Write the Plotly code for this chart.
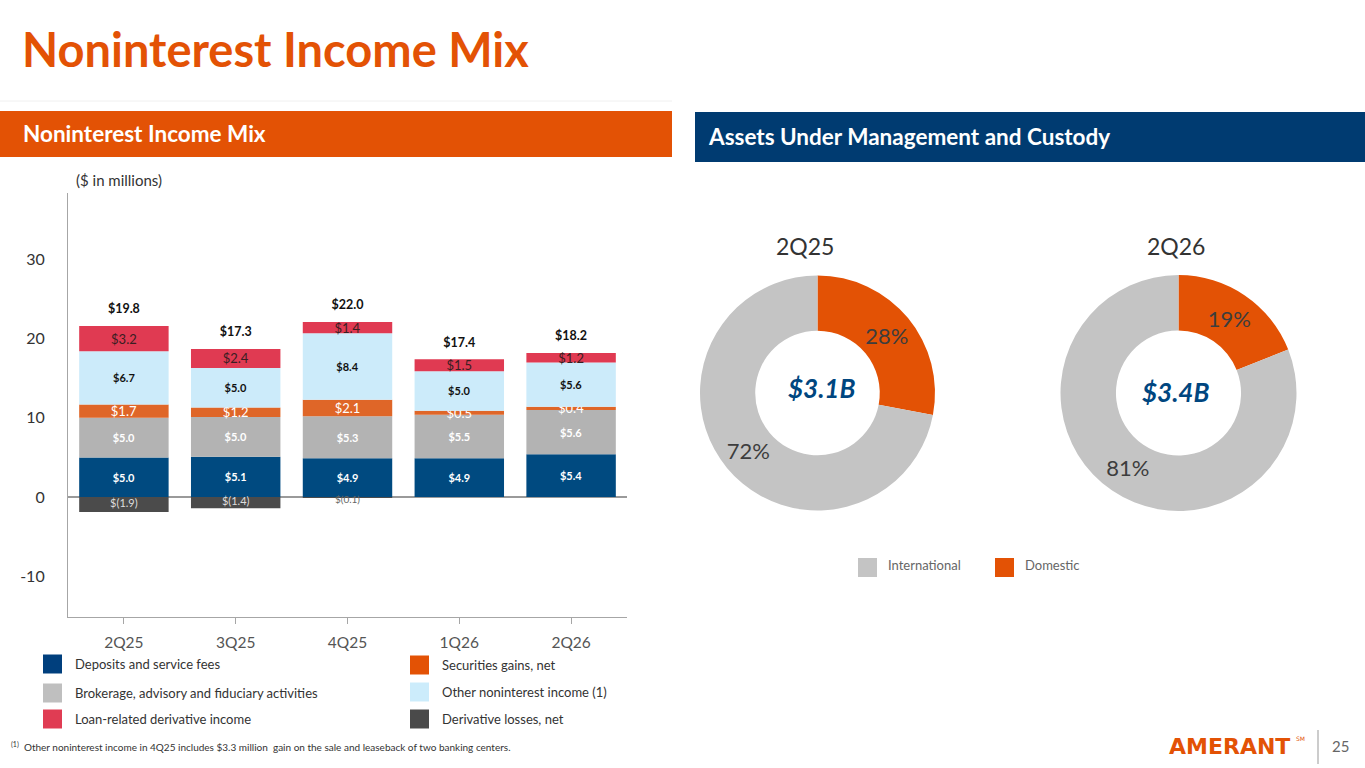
import plotly.graph_objects as go

W, H = 1365, 768

# ---------------- data ----------------
quarters = ["2Q25", "3Q25", "4Q25", "1Q26", "2Q26"]
deposits = [5.0, 5.1, 4.9, 4.9, 5.4]
brokerage = [5.0, 5.0, 5.3, 5.5, 5.6]
securities = [1.7, 1.2, 2.1, 0.5, 0.4]
other_income = [6.7, 5.0, 8.4, 5.0, 5.6]
loan_deriv = [3.2, 2.4, 1.4, 1.5, 1.2]
deriv_quarters = ["2Q25", "3Q25", "4Q25"]
deriv_losses = [-1.9, -1.4, -0.1]
totals = [19.8, 17.3, 22.0, 17.4, 18.2]
y_ticks = [-10, 0, 10, 20, 30]

pie_labels = ["Domestic", "International"]
pie_2q25 = [28, 72]
pie_2q26 = [19, 81]
aum_2q25 = "$3.1B"
aum_2q26 = "$3.4B"

# ---------------- colours ----------------
ORANGE = "#E35205"
NAVY = "#003B71"
C_DEP = "#004A80"
C_BRK = "#B3B3B3"
C_SEC = "#DF6628"
C_OTH = "#CCEBFA"
C_LOAN = "#E03A52"
C_DER = "#4B4B4B"
PIE_GRAY = "#C4C4C4"
FONT = "Lato"


def px(x):
    return x / W


def py(y):
    return 1 - y / H


def money(v):
    return f"${v:.1f}"


def neg_money(v):
    return f"$({abs(v):.1f})"


fig = go.Figure()

series = [
    ("Deposits and service fees", deposits, C_DEP, "white", 11, "bold"),
    ("Brokerage, advisory and fiduciary activities", brokerage, C_BRK, "white", 11, "bold"),
    ("Securities gains, net", securities, C_SEC, "#FFFFFF", 13, "normal"),
    ("Other noninterest income (1)", other_income, C_OTH, "#111111", 11, "bold"),
    ("Loan-related derivative income", loan_deriv, C_LOAN, "#3A1E22", 13, "normal"),
]
for name, vals, col, tcol, tsize, tw in series:
    fig.add_trace(go.Bar(
        x=quarters, y=vals, name=name, marker=dict(color=col, line=dict(width=0)),
        text=[money(v) for v in vals], textposition="inside", insidetextanchor="middle",
        textangle=0, constraintext="none",
        textfont=dict(family=FONT, size=tsize, color=tcol, weight=tw),
        hoverinfo="skip", showlegend=False,
    ))

fig.add_trace(go.Bar(
    x=deriv_quarters, y=deriv_losses, name="Derivative losses, net",
    marker=dict(color=C_DER, line=dict(width=0)),
    hoverinfo="skip", showlegend=False,
))
# labels of the (possibly very thin) negative bars
fig.add_trace(go.Scatter(
    x=deriv_quarters, y=[min(v / 2, -0.45) for v in deriv_losses], mode="text",
    text=[neg_money(v) for v in deriv_losses], textposition="middle center",
    textfont=dict(family=FONT, size=[11, 11, 10],
                  color=["#DDDDDD" if v < -0.5 else "#666666" for v in deriv_losses]),
    hoverinfo="skip", showlegend=False, cliponaxis=False,
))

pos_sum = [a + b + c + d + e for a, b, c, d, e in
           zip(deposits, brokerage, securities, other_income, loan_deriv)]
fig.add_trace(go.Scatter(
    x=quarters, y=[s + 2.0 for s in pos_sum], mode="text",
    text=[money(t) for t in totals], textposition="middle center",
    textfont=dict(family=FONT, size=12.5, color="#111111", weight="bold"),
    hoverinfo="skip", showlegend=False,
))

fig.update_layout(
    barmode="relative", bargap=0.2,
    xaxis=dict(domain=[px(68), px(627)], range=[-0.5, 4.5], showline=True,
               linecolor="#A6A6A6", linewidth=1.2, ticks="outside", ticklen=6,
               tickcolor="#A6A6A6", showgrid=False, zeroline=False,
               tickfont=dict(family=FONT, size=15.5, color="#555555"),
               ticklabelstandoff=5),
    yaxis=dict(domain=[py(617), py(193)], range=[-15.15, 38.4], showline=True,
               linecolor="#A6A6A6", linewidth=1.2, showgrid=False,
               zeroline=True, zerolinecolor="#9A9A9A", zerolinewidth=1.5,
               tickvals=y_ticks, ticktext=[str(t) for t in y_ticks],
               tickfont=dict(family=FONT, size=16, color="#333333"),
               ticklabelstandoff=19),
)

# ---------------- pies ----------------
pie_y = [py(511), py(275)]
for vals, xd in ((pie_2q25, [px(700), px(935)]), (pie_2q26, [px(1060), px(1297)])):
    fig.add_trace(go.Pie(
        labels=pie_labels, values=vals, hole=0.53, sort=False, direction="clockwise",
        rotation=0, marker=dict(colors=[ORANGE, PIE_GRAY], line=dict(width=0)),
        texttemplate="%{value}%", textposition="inside", insidetextorientation="horizontal",
        textfont=dict(family=FONT, size=22, color="#3D3D3D"),
        domain=dict(x=xd, y=pie_y), showlegend=False, hoverinfo="skip",
    ))

shapes = []
ann = []

# header bars
shapes.append(dict(type="line", xref="paper", yref="paper", x0=0, x1=px(672),
                   y0=py(101), y1=py(101), line=dict(color="#F0F0F0", width=1)))
shapes.append(dict(type="rect", xref="paper", yref="paper", x0=0, x1=px(672),
                   y0=py(157), y1=py(111), fillcolor=ORANGE, line=dict(width=0), layer="below"))
shapes.append(dict(type="rect", xref="paper", yref="paper", x0=px(695), x1=1,
                   y0=py(162), y1=py(112), fillcolor=NAVY, line=dict(width=0), layer="below"))

ann.append(dict(text="<b>Noninterest Income Mix</b>", x=px(20), y=py(49), xanchor="left",
                yanchor="middle", font=dict(family=FONT, size=47, color=ORANGE)))
ann.append(dict(text="<b>Noninterest Income Mix</b>", x=px(21), y=py(133), xanchor="left",
                yanchor="middle", font=dict(family=FONT, size=22.5, color="white")))
ann.append(dict(text="<b>Assets Under Management and Custody</b>", x=px(706), y=py(137),
                xanchor="left", yanchor="middle", font=dict(family=FONT, size=22.5, color="white")))
ann.append(dict(text="($ in millions)", x=px(74), y=py(180), xanchor="left", yanchor="middle",
                font=dict(family=FONT, size=15, color="#333333")))

# pie titles and centres
ann.append(dict(text="2Q25", x=px(805), y=py(246), xanchor="center", yanchor="middle",
                font=dict(family=FONT, size=23, color="#333333")))
ann.append(dict(text="2Q26", x=px(1176), y=py(246), xanchor="center", yanchor="middle",
                font=dict(family=FONT, size=23, color="#333333")))
ann.append(dict(text=f"<b><i>{aum_2q25}</i></b>", x=px(821), y=py(388), xanchor="center",
                yanchor="middle", font=dict(family=FONT, size=26, color="#00467F")))
ann.append(dict(text=f"<b><i>{aum_2q26}</i></b>", x=px(1175), y=py(392), xanchor="center",
                yanchor="middle", font=dict(family=FONT, size=26, color="#00467F")))

# pie legend
for (lab, col, sx) in (("International", PIE_GRAY, 858), ("Domestic", ORANGE, 995)):
    shapes.append(dict(type="rect", xref="paper", yref="paper", x0=px(sx), x1=px(sx + 19),
                       y0=py(577), y1=py(558), fillcolor=col, line=dict(width=0)))
    ann.append(dict(text=lab, x=px(sx + 28), y=py(565), xanchor="left", yanchor="middle",
                    font=dict(family=FONT, size=13, color="#666666")))

# bar legend
bar_legend = [
    ("Deposits and service fees", "#003F7D", 43, 664),
    ("Brokerage, advisory and fiduciary activities", "#BFBFBF", 43, 693),
    ("Loan-related derivative income", "#E03C53", 43, 719),
    ("Securities gains, net", ORANGE, 410, 665),
    ("Other noninterest income (1)", "#CCECFB", 410, 692),
    ("Derivative losses, net", "#4A4A4A", 410, 719),
]
for lab, col, sx, cy in bar_legend:
    shapes.append(dict(type="rect", xref="paper", yref="paper", x0=px(sx), x1=px(sx + 19),
                       y0=py(cy + 9.5), y1=py(cy - 9.5), fillcolor=col, line=dict(width=0)))
    ann.append(dict(text=lab, x=px(sx + 30), y=py(cy), xanchor="left", yanchor="middle",
                    font=dict(family=FONT, size=13, color="#333333")))

# footnote
ann.append(dict(text="<sup>(1)</sup>  Other noninterest income in 4Q25 includes $3.3 million  gain on the sale and leaseback of two banking centers.",
                x=px(9), y=py(746), xanchor="left", yanchor="middle",
                font=dict(family=FONT, size=10, color="#333333")))

# logo & page number
ann.append(dict(text="<b>AMERANT</b>", x=px(1292), y=py(746), xanchor="right",
                yanchor="middle", font=dict(family="DejaVu Sans", size=22, color=ORANGE)))
ann.append(dict(text="SM", x=px(1294), y=py(738), xanchor="left",
                yanchor="middle", font=dict(family="DejaVu Sans", size=6, color=ORANGE)))
shapes.append(dict(type="line", xref="paper", yref="paper", x0=px(1318), x1=px(1318),
                   y0=py(764), y1=py(730), line=dict(color="#BBBBBB", width=1.5)))
ann.append(dict(text="25", x=px(1340), y=py(746), xanchor="center", yanchor="middle",
                font=dict(family=FONT, size=15, color="#666666")))

for a in ann:
    a.update(xref="paper", yref="paper", showarrow=False)

fig.update_layout(
    width=W, height=H, margin=dict(l=0, r=0, t=0, b=0),
    paper_bgcolor="white", plot_bgcolor="white",
    shapes=shapes, annotations=ann, showlegend=False,
    font=dict(family=FONT),
)

fig.write_html("out.html", config={"displayModeBar": False},
               post_script="document.body.style.margin='0';document.body.style.overflow='hidden';")
